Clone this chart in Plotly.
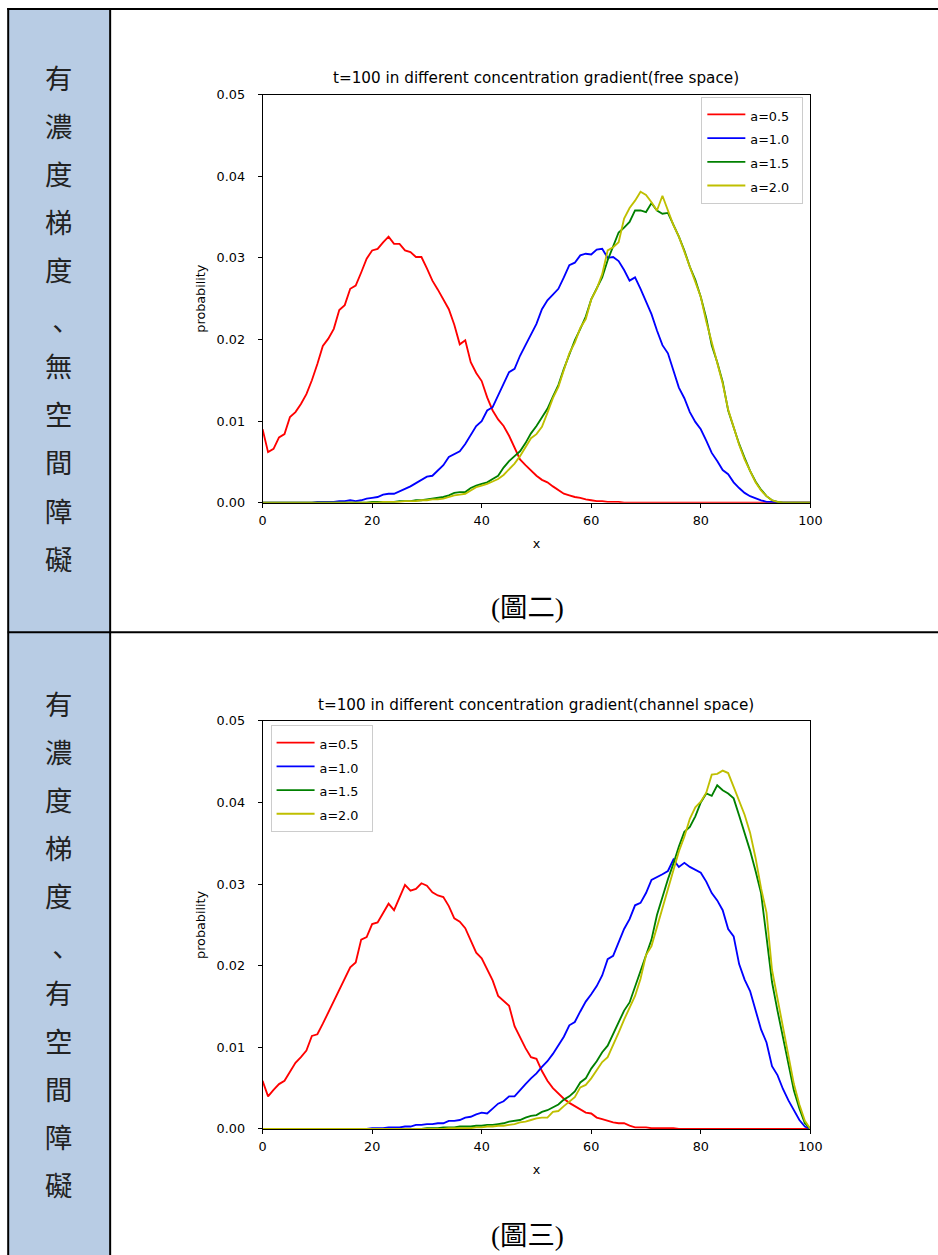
import plotly.graph_objects as go

# ---------------- data ----------------
x_vals = list(range(101))
series_names = ["a=0.5", "a=1.0", "a=1.5", "a=2.0"]
series_colors = ["#ff0000", "#0000ff", "#008000", "#bfbf00"]
x_ticks = [0, 20, 40, 60, 80, 100]
y_ticks = [0.00, 0.01, 0.02, 0.03, 0.04, 0.05]

free_a05 = [0.0090, 0.0062, 0.0066, 0.0080, 0.0084, 0.0105, 0.0111, 0.0121, 0.0133, 0.0150,
            0.0170, 0.0192, 0.0201, 0.0213, 0.0236, 0.0242, 0.0262, 0.0266, 0.0282, 0.0299,
            0.0309, 0.0311, 0.0319, 0.0326, 0.0317, 0.0317, 0.0309, 0.0307, 0.0301, 0.0301,
            0.0287, 0.0272, 0.0261, 0.0249, 0.0237, 0.0218, 0.0194, 0.0199, 0.0172, 0.0159,
            0.0149, 0.0129, 0.0113, 0.0102, 0.0094, 0.0082, 0.0067, 0.0053, 0.0046, 0.0039,
            0.0033, 0.0028, 0.0025, 0.0020, 0.0015, 0.0011, 0.0009, 0.0007, 0.0006, 0.0004,
            0.0003, 0.0002, 0.0002, 0.0001, 0.0001, 0.0001, 0.0, 0.0, 0.0, 0.0,
            0.0, 0.0, 0.0, 0.0, 0.0, 0.0, 0.0, 0.0, 0.0, 0.0,
            0.0, 0.0, 0.0, 0.0, 0.0, 0.0, 0.0, 0.0, 0.0, 0.0,
            0.0, 0.0, 0.0, 0.0, 0.0, 0.0, 0.0, 0.0, 0.0, 0.0,
            0.0]
free_a10 = [0.0, 0.0, 0.0, 0.0, 0.0, 0.0, 0.0, 0.0, 0.0, 0.0,
            0.0001, 0.0001, 0.0001, 0.0001, 0.0002, 0.0002, 0.0003, 0.0002, 0.0003, 0.0005,
            0.0006, 0.0007, 0.0010, 0.0011, 0.0011, 0.0014, 0.0017, 0.0020, 0.0024, 0.0028,
            0.0032, 0.0033, 0.0040, 0.0046, 0.0056, 0.0060, 0.0063, 0.0072, 0.0083, 0.0094,
            0.0100, 0.0113, 0.0117, 0.0131, 0.0145, 0.0160, 0.0164, 0.0180, 0.0193, 0.0207,
            0.0219, 0.0237, 0.0248, 0.0255, 0.0262, 0.0276, 0.0291, 0.0294, 0.0303, 0.0305,
            0.0304, 0.0310, 0.0311, 0.0300, 0.0301, 0.0296, 0.0285, 0.0272, 0.0276, 0.0262,
            0.0246, 0.0231, 0.0211, 0.0193, 0.0183, 0.0163, 0.0141, 0.0128, 0.0111, 0.0099,
            0.0090, 0.0076, 0.0061, 0.0051, 0.0040, 0.0035, 0.0025, 0.0018, 0.0012, 0.0008,
            0.0005, 0.0003, 0.0001, 0.0001, 0.0, 0.0, 0.0, 0.0, 0.0, 0.0,
            0.0]
free_a15 = [0.0, 0.0, 0.0, 0.0, 0.0, 0.0, 0.0, 0.0, 0.0, 0.0,
            0.0, 0.0, 0.0, 0.0, 0.0, 0.0, 0.0, 0.0, 0.0, 0.0,
            0.0001, 0.0001, 0.0001, 0.0001, 0.0001, 0.0002, 0.0002, 0.0002, 0.0003, 0.0003,
            0.0004, 0.0005, 0.0006, 0.0007, 0.0009, 0.0012, 0.0013, 0.0013, 0.0018, 0.0021,
            0.0023, 0.0025, 0.0029, 0.0033, 0.0043, 0.0051, 0.0057, 0.0063, 0.0073, 0.0085,
            0.0094, 0.0104, 0.0115, 0.0130, 0.0144, 0.0164, 0.0181, 0.0199, 0.0213, 0.0228,
            0.0249, 0.0262, 0.0276, 0.0297, 0.0315, 0.0331, 0.0337, 0.0344, 0.0358, 0.0358,
            0.0356, 0.0367, 0.0358, 0.0354, 0.0355, 0.0341, 0.0326, 0.0309, 0.0289, 0.0273,
            0.0252, 0.0226, 0.0193, 0.0172, 0.0148, 0.0113, 0.0093, 0.0072, 0.0055, 0.0039,
            0.0026, 0.0016, 0.0008, 0.0003, 0.0001, 0.0, 0.0, 0.0, 0.0, 0.0,
            0.0]
free_a20 = [0.0, 0.0, 0.0, 0.0, 0.0, 0.0, 0.0, 0.0, 0.0, 0.0,
            0.0, 0.0, 0.0, 0.0, 0.0, 0.0, 0.0, 0.0, 0.0, 0.0,
            0.0, 0.0, 0.0001, 0.0001, 0.0001, 0.0001, 0.0002, 0.0002, 0.0002, 0.0003,
            0.0003, 0.0004, 0.0004, 0.0005, 0.0007, 0.0009, 0.0010, 0.0011, 0.0015, 0.0019,
            0.0021, 0.0023, 0.0026, 0.0029, 0.0034, 0.0041, 0.0048, 0.0057, 0.0068, 0.0079,
            0.0084, 0.0093, 0.0110, 0.0128, 0.0142, 0.0163, 0.0183, 0.0196, 0.0214, 0.0225,
            0.0249, 0.0262, 0.0280, 0.0309, 0.0313, 0.0319, 0.0348, 0.0361, 0.0370, 0.0381,
            0.0377, 0.0368, 0.0358, 0.0376, 0.0357, 0.0340, 0.0326, 0.0308, 0.0290, 0.0272,
            0.0252, 0.0222, 0.0197, 0.0173, 0.0146, 0.0114, 0.0092, 0.0071, 0.0053, 0.0038,
            0.0025, 0.0015, 0.0008, 0.0003, 0.0001, 0.0, 0.0, 0.0, 0.0, 0.0,
            0.0]

chan_a05 = [0.0059, 0.0040, 0.0048, 0.0055, 0.0059, 0.0070, 0.0081, 0.0088, 0.0096, 0.0114,
            0.0116, 0.0129, 0.0143, 0.0157, 0.0170, 0.0183, 0.0198, 0.0204, 0.0232, 0.0235,
            0.0251, 0.0253, 0.0264, 0.0276, 0.0268, 0.0284, 0.0299, 0.0292, 0.0294, 0.0301,
            0.0298, 0.0290, 0.0286, 0.0284, 0.0273, 0.0258, 0.0254, 0.0246, 0.0232, 0.0216,
            0.0209, 0.0195, 0.0182, 0.0163, 0.0157, 0.0151, 0.0126, 0.0112, 0.0099, 0.0088,
            0.0086, 0.0071, 0.0059, 0.0050, 0.0043, 0.0037, 0.0032, 0.0028, 0.0023, 0.0020,
            0.0019, 0.0014, 0.0012, 0.0010, 0.0008, 0.0007, 0.0007, 0.0004, 0.0002, 0.0002,
            0.0002, 0.0001, 0.0001, 0.0001, 0.0001, 0.0001, 0.0, 0.0, 0.0, 0.0,
            0.0, 0.0, 0.0, 0.0, 0.0, 0.0, 0.0, 0.0, 0.0, 0.0,
            0.0, 0.0, 0.0, 0.0, 0.0, 0.0, 0.0, 0.0, 0.0, 0.0,
            0.0]
chan_a10 = [0.0, 0.0, 0.0, 0.0, 0.0, 0.0, 0.0, 0.0, 0.0, 0.0,
            0.0, 0.0, 0.0, 0.0, 0.0, 0.0, 0.0, 0.0, 0.0, 0.0,
            0.0001, 0.0001, 0.0001, 0.0002, 0.0002, 0.0002, 0.0003, 0.0003, 0.0005, 0.0005,
            0.0006, 0.0006, 0.0007, 0.0007, 0.0010, 0.0010, 0.0011, 0.0014, 0.0015, 0.0018,
            0.0020, 0.0019, 0.0025, 0.0031, 0.0034, 0.0040, 0.0040, 0.0048, 0.0055, 0.0062,
            0.0068, 0.0076, 0.0083, 0.0092, 0.0103, 0.0113, 0.0127, 0.0131, 0.0144, 0.0156,
            0.0165, 0.0175, 0.0188, 0.0208, 0.0212, 0.0229, 0.0245, 0.0257, 0.0274, 0.0277,
            0.0289, 0.0305, 0.0308, 0.0312, 0.0316, 0.0330, 0.0321, 0.0326, 0.0321, 0.0318,
            0.0314, 0.0303, 0.0289, 0.0280, 0.0268, 0.0245, 0.0236, 0.0202, 0.0183, 0.0169,
            0.0147, 0.0122, 0.0106, 0.0077, 0.0066, 0.0049, 0.0035, 0.0023, 0.0011, 0.0003,
            0.0]
chan_a15 = [0.0, 0.0, 0.0, 0.0, 0.0, 0.0, 0.0, 0.0, 0.0, 0.0,
            0.0, 0.0, 0.0, 0.0, 0.0, 0.0, 0.0, 0.0, 0.0, 0.0,
            0.0, 0.0, 0.0, 0.0, 0.0, 0.0, 0.0, 0.0, 0.0, 0.0,
            0.0001, 0.0001, 0.0001, 0.0002, 0.0002, 0.0002, 0.0003, 0.0003, 0.0003, 0.0004,
            0.0004, 0.0005, 0.0005, 0.0006, 0.0007, 0.0009, 0.0010, 0.0011, 0.0014, 0.0016,
            0.0017, 0.0021, 0.0023, 0.0027, 0.0030, 0.0036, 0.0040, 0.0046, 0.0057, 0.0062,
            0.0074, 0.0083, 0.0094, 0.0102, 0.0116, 0.0132, 0.0145, 0.0155, 0.0174, 0.0192,
            0.0213, 0.0232, 0.0262, 0.0285, 0.0306, 0.0325, 0.0346, 0.0364, 0.0370, 0.0383,
            0.0400, 0.0411, 0.0408, 0.0421, 0.0415, 0.0411, 0.0405, 0.0384, 0.0363, 0.0341,
            0.0316, 0.0289, 0.0235, 0.0180, 0.0145, 0.0112, 0.0079, 0.0047, 0.0025, 0.0007,
            0.0]
chan_a20 = [0.0, 0.0, 0.0, 0.0, 0.0, 0.0, 0.0, 0.0, 0.0, 0.0,
            0.0, 0.0, 0.0, 0.0, 0.0, 0.0, 0.0, 0.0, 0.0, 0.0,
            0.0, 0.0, 0.0, 0.0, 0.0, 0.0, 0.0, 0.0, 0.0, 0.0,
            0.0, 0.0, 0.0, 0.0, 0.0001, 0.0001, 0.0001, 0.0001, 0.0001, 0.0002,
            0.0002, 0.0003, 0.0003, 0.0004, 0.0004, 0.0005, 0.0006, 0.0008, 0.0009, 0.0011,
            0.0013, 0.0014, 0.0014, 0.0021, 0.0022, 0.0028, 0.0033, 0.0039, 0.0051, 0.0054,
            0.0062, 0.0072, 0.0082, 0.0088, 0.0102, 0.0118, 0.0134, 0.0148, 0.0163, 0.0184,
            0.0213, 0.0224, 0.0248, 0.0271, 0.0293, 0.0317, 0.0340, 0.0358, 0.0380, 0.0394,
            0.0401, 0.0412, 0.0434, 0.0435, 0.0439, 0.0436, 0.0419, 0.0403, 0.0385, 0.0363,
            0.0332, 0.0295, 0.0265, 0.0195, 0.0160, 0.0122, 0.0088, 0.0055, 0.0030, 0.0010,
            0.0]

title_free = "t=100 in different concentration gradient(free space)"
title_chan = "t=100 in different concentration gradient(channel space)"
row1_label = "有濃度梯度、無空間障礙"
row2_label = "有濃度梯度、有空間障礙"
caption1 = "(圖二)"
caption2 = "(圖三)"

# ---------------- layout helpers ----------------
# Positions below are given in screenshot pixels; the page shows the figure with a
# small offset and a slight down-scale, which these helpers compensate.
OX, OY = 3.3, 7.5
SX, SY = 0.9836, 0.9877
S = (SX + SY) / 2
W, H = 950, 1263
def PX(v):
    return ((v - OX) / SX) / W
def PY(v):
    return 1 - ((v - OY) / SY) / H
def F(px):
    return px / S

MPL = "DejaVu Sans"
TICK_PX = F(12.6)
NB = "&nbsp;&nbsp;"

fig = go.Figure()

for ys, nm, col in zip([free_a05, free_a10, free_a15, free_a20], series_names, series_colors):
    fig.add_trace(go.Scatter(x=x_vals, y=ys, mode="lines", xaxis="x", yaxis="y",
                             line=dict(color=col, width=1.85),
                             name=f'<span style="font-size:{TICK_PX:.2f}px">{nm}{NB}</span>',
                             legend="legend"))
for ys, nm, col in zip([chan_a05, chan_a10, chan_a15, chan_a20], series_names, series_colors):
    fig.add_trace(go.Scatter(x=x_vals, y=ys, mode="lines", xaxis="x2", yaxis="y2",
                             line=dict(color=col, width=1.85),
                             name=f'<span style="font-size:{TICK_PX:.2f}px">{nm}{NB}</span>',
                             legend="legend2"))

tickfont = dict(family=MPL, size=TICK_PX, color="black")
def xax(anchor, domain):
    return dict(domain=domain, anchor=anchor, range=[0, 100], tickvals=x_ticks,
                ticks="outside", ticklen=4, tickwidth=1, tickcolor="black",
                ticklabelstandoff=2,
                showline=True, linecolor="black", linewidth=1, mirror=True,
                showgrid=False, zeroline=False, tickfont=tickfont,
                title=dict(text="x", font=tickfont, standoff=11))
def yax(anchor, domain):
    return dict(domain=domain, anchor=anchor, range=[0, 0.05], tickvals=y_ticks,
                tickformat=".2f", ticklabelstandoff=10,
                ticks="outside", ticklen=4, tickwidth=1, tickcolor="black",
                showline=True, linecolor="black", linewidth=1, mirror=True,
                showgrid=False, zeroline=False, tickfont=tickfont,
                title=dict(text="probability", font=tickfont, standoff=8))

xdom = [PX(262), PX(810)]
legend_common = dict(bgcolor="rgba(255,255,255,0.85)", bordercolor="#cccccc", borderwidth=1,
                     font=dict(family=MPL, size=F(15.7), color="black"), tracegroupgap=0,
                     itemwidth=38)

def ann(text, x, y, font):
    return dict(text=text, x=PX(x), y=PY(y), xref="paper", yref="paper",
                xanchor="center", yanchor="middle", showarrow=False, font=font)

title_font = dict(family=MPL, size=F(15), color="black")
cap_font = dict(family="Liberation Serif, Noto Sans CJK TC", size=F(27), color="black")
annotations = [
    ann(title_free, 536, 77, title_font),
    ann(title_chan, 536, 704, title_font),
    ann(caption1, 527, 607, cap_font),
    ann(caption2, 527, 1235, cap_font),
]
cjk_font = dict(family="Noto Sans CJK TC", size=F(27), color="#222222")
for label, y0 in [(row1_label, 76), (row2_label, 702)]:
    for i, ch in enumerate(label):
        yy = y0 + i * 48.1
        xx = 58
        if ch == "、":
            xx, yy = 57, yy + 10
        annotations.append(ann(ch, xx, yy, cjk_font))

shapes = [
    dict(type="rect", xref="paper", yref="paper", x0=PX(8), x1=PX(109), y0=0, y1=PY(8),
         fillcolor="#B8CCE4", line=dict(width=0), layer="below"),
    dict(type="line", xref="paper", yref="paper", x0=PX(6.5), x1=1, y0=PY(8.5), y1=PY(8.5),
         line=dict(color="black", width=2)),
    dict(type="line", xref="paper", yref="paper", x0=PX(7.5), x1=PX(7.5), y0=0, y1=PY(7.5),
         line=dict(color="black", width=2)),
    dict(type="line", xref="paper", yref="paper", x0=PX(109.5), x1=PX(109.5), y0=0, y1=PY(7.5),
         line=dict(color="black", width=2)),
    dict(type="line", xref="paper", yref="paper", x0=PX(7), x1=1, y0=PY(631.5), y1=PY(631.5),
         line=dict(color="black", width=2)),
]

fig.update_layout(
    width=W, height=H, margin=dict(l=0, r=0, t=0, b=0),
    paper_bgcolor="white", plot_bgcolor="white",
    xaxis=xax("y", xdom), yaxis=yax("x", [PY(502), PY(94)]),
    xaxis2=xax("y2", xdom), yaxis2=yax("x2", [PY(1128), PY(720)]),
    legend=dict(x=PX(803), xanchor="right", y=PY(96), yanchor="top", **legend_common),
    legend2=dict(x=PX(270), xanchor="left", y=PY(724), yanchor="top", **legend_common),
    annotations=annotations, shapes=shapes, showlegend=True,
)

fig.write_html("out.html")
